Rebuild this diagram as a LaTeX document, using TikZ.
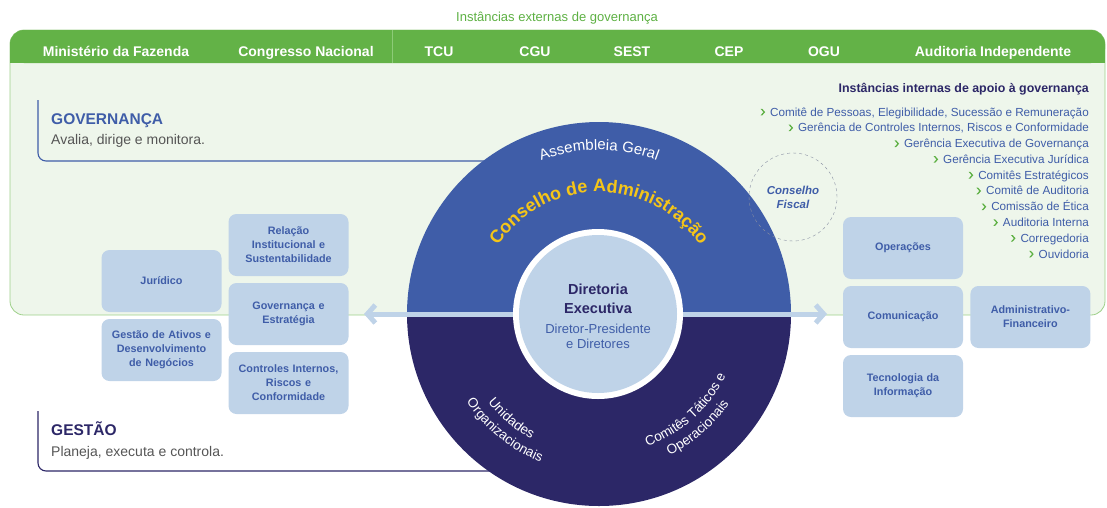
\documentclass[tikz,border=0pt]{standalone}
\usepackage{fontspec}
\setmainfont{Liberation Sans}
\usetikzlibrary{arrows.meta,positioning,decorations.text}

\definecolor{hdrgreen}{HTML}{63B247}
\definecolor{hdrline}{HTML}{8DCB78}
\definecolor{panelfill}{HTML}{EEF6EB}
\definecolor{panelline}{HTML}{9ED08A}
\definecolor{govblue}{HTML}{3F5DA8}
\definecolor{navy}{HTML}{2C2767}
\definecolor{boxfill}{HTML}{BFD3E8}
\definecolor{gold}{HTML}{F5C518}
\definecolor{graytext}{HTML}{555555}
\definecolor{dashgray}{HTML}{8A90A3}
\definecolor{lgreen}{HTML}{5DB043}

\newcommand{\bul}{\tikz[baseline=0pt]\fill[lgreen] (0pt,0.6pt) -- (1.7pt,0.6pt) -- (4.6pt,3.9pt) -- (1.7pt,7.2pt) -- (0pt,7.2pt) -- (2.9pt,3.9pt) -- cycle;\hspace{5pt}}

\tikzset{
    unit/.style={
           rectangle,
           rounded corners=8pt,
           fill=boxfill,
           minimum width=120pt, minimum height=62pt,
           text width=114pt, align=center, inner sep=0pt,
           text=govblue,
           font=\bfseries\fontsize{10.8}{14}\selectfont,
           },
    hdr/.style={anchor=base, text=white, font=\bfseries\fontsize{14}{16}\selectfont},
    item/.style={anchor=base east, inner sep=0pt, text=govblue, font=\fontsize{11.7}{14}\selectfont},
    lbl/.style={anchor=base west, inner sep=0pt},
    band/.style={draw=boxfill, line width=5pt,
           {Straight Barb[length=8pt,width=18pt]}-{Straight Barb[length=8pt,width=18pt]}},
}

\begin{document}
\begin{tikzpicture}[x=1pt,y=1pt,node distance=69pt]
    \useasboundingbox (0,0) rectangle (1107,-507);

    % external instances
    \node[anchor=base, text=lgreen, font=\fontsize{13}{15}\selectfont] (ext) at (557,-21) {Instâncias externas de governança};
    \draw[panelline, fill=panelfill, line width=0.8pt, rounded corners=14pt] (10,-30) rectangle (1105,-315);
    \fill[hdrgreen, rounded corners=14pt] (10,-30) rectangle (1105,-63);
    \fill[hdrgreen] (10,-45) rectangle (1105,-63);
    \draw[hdrline, line width=0.8pt] (392,-30) -- (392,-63);

    \node[hdr] (mf)  at (116,-56) {Ministério da Fazenda};
    \node[hdr] (cn)  at (306,-56) {Congresso Nacional};
    \node[hdr] (tcu) at (439,-56) {TCU};
    \node[hdr] (cgu) at (535,-56) {CGU};
    \node[hdr] (sest) at (632,-56) {SEST};
    \node[hdr] (cep) at (729,-56) {CEP};
    \node[hdr] (ogu) at (824,-56) {OGU};
    \node[hdr] (aud) at (993,-56) {Auditoria Independente};

    % governanca / gestao brackets
    \draw[govblue, line width=1.1pt, rounded corners=8pt] (38,-100) -- (38,-161) -- (560,-161);
    \draw[navy, line width=1.1pt, rounded corners=8pt] (38,-411) -- (38,-471) -- (560,-471);
    \node[lbl, text=govblue, font=\bfseries\fontsize{15.5}{18}\selectfont] (govt) at (51,-124) {GOVERNANÇA};
    \node[lbl, text=graytext, font=\fontsize{14}{16}\selectfont] (govs) at (51,-144) {Avalia, dirige e monitora.};
    \node[lbl, text=navy, font=\bfseries\fontsize{15.5}{18}\selectfont] (gest) at (51,-435) {GESTÃO};
    \node[lbl, text=graytext, font=\fontsize{14}{16}\selectfont] (gess) at (51,-456) {Planeja, executa e controla.};

    % big circle
    \coordinate (c) at (599,-314);
    \fill[govblue] (c) ++(0:192) arc[start angle=0, end angle=180, radius=192] -- cycle;
    \fill[navy] (c) ++(180:192) arc[start angle=180, end angle=360, radius=192] -- cycle;

    \coordinate (lend) at (364,-314);
    \coordinate (rend) at (827,-314);
    \draw[band] (lend) -- (rend);

    \fill[white] (598,-314) circle (85);
    \node[circle, fill=boxfill, minimum size=158pt, inner sep=0pt] (de) at (598,-314) {};
    \node[anchor=base, text=navy, font=\bfseries\fontsize{14.5}{16}\selectfont] (de1) at (598,-294) {Diretoria};
    \node[anchor=base, text=navy, font=\bfseries\fontsize{14.5}{16}\selectfont] (de2) at (598,-313) {Executiva};
    \node[anchor=base, text=govblue, font=\fontsize{13}{15}\selectfont] (de3) at (598,-333) {Diretor-Presidente};
    \node[anchor=base, text=govblue, font=\fontsize{13}{15}\selectfont] (de4) at (598,-348) {e Diretores};

    % text on the rings
    \path[decorate, decoration={text along path, text align=center, text color=white,
        text={|\fontsize{15}{16}\selectfont|Assembleia Geral}}]
        (c) ++(150:164) arc[start angle=150, end angle=30, radius=164];
    \path[decorate, decoration={text along path, text align=center, text color=gold,
        text={|\bfseries\fontsize{18}{18}\selectfont|Conselho de Administração}}]
        (c) ++(160:122) arc[start angle=160, end angle=20, radius=122];
    \path[decorate, decoration={text along path, text align=center, text color=white,
        text={|\fontsize{13.5}{15}\selectfont|Unidades}}]
        (c) ++(200:142) arc[start angle=200, end angle=260, radius=142];
    \path[decorate, decoration={text along path, text align=center, text color=white,
        text={|\fontsize{13.5}{15}\selectfont|Organizacionais}}]
        (c) ++(200:159) arc[start angle=200, end angle=262, radius=159];
    \path[decorate, decoration={text along path, text align=center, text color=white,
        text={|\fontsize{13.5}{15}\selectfont|Comitês Táticos e}}]
        (c) ++(282:141) arc[start angle=282, end angle=342, radius=141];
    \path[decorate, decoration={text along path, text align=center, text color=white,
        text={|\fontsize{13.5}{15}\selectfont|Operacionais}}]
        (c) ++(282:158) arc[start angle=282, end angle=340, radius=158];

    % conselho fiscal
    \node[circle, draw=dashgray, dashed, minimum size=88pt, inner sep=0pt, align=center,
          text=govblue, font=\bfseries\itshape\fontsize{11.5}{14}\selectfont] (cf) at (793,-197) {Conselho\\Fiscal};

    % internal instances
    \node[anchor=base east, inner sep=0pt, text=navy, font=\bfseries\fontsize{12.4}{14}\selectfont] (int) at (1089,-92) {Instâncias internas de apoio à governança};
    \node[item] (i1)  at (1089,-116)   {\bul Comitê de Pessoas, Elegibilidade, Sucessão e Remuneração};
    \node[item] (i2)  at (1089,-131.8) {\bul Gerência de Controles Internos, Riscos e Conformidade};
    \node[item] (i3)  at (1089,-147.6) {\bul Gerência Executiva de Governança};
    \node[item] (i4)  at (1089,-163.3) {\bul Gerência Executiva Jurídica};
    \node[item] (i5)  at (1089,-179.1) {\bul Comitês Estratégicos};
    \node[item] (i6)  at (1089,-194.9) {\bul Comitê de Auditoria};
    \node[item] (i7)  at (1089,-210.7) {\bul Comissão de Ética};
    \node[item] (i8)  at (1089,-226.5) {\bul Auditoria Interna};
    \node[item] (i9)  at (1089,-242.2) {\bul Corregedoria};
    \node[item] (i10) at (1089,-258)   {\bul Ouvidoria};

    % units, left
    \node[unit] (jur) at (161.5,-281) {Jurídico};
    \node[unit] (ativos) [below of=jur] {Gestão de Ativos e\\Desenvolvimento\\de Negócios};
    \node[unit] (rel) at (288.5,-245) {Relação\\Institucional e\\Sustentabilidade};
    \node[unit] (estr) [below of=rel] {Governança e\\Estratégia};
    \node[unit] (ctrl) [below of=estr] {Controles Internos,\\Riscos e\\Conformidade};

    % units, right
    \node[unit] (oper) at (903,-248) {Operações};
    \node[unit] (com) [below of=oper] {Comunicação};
    \node[unit] (ti) [below of=com] {Tecnologia da\\Informação};
    \node[unit] (adm) [right=7pt of com] {Administrativo-\\Financeiro};

\end{tikzpicture}
\end{document}
